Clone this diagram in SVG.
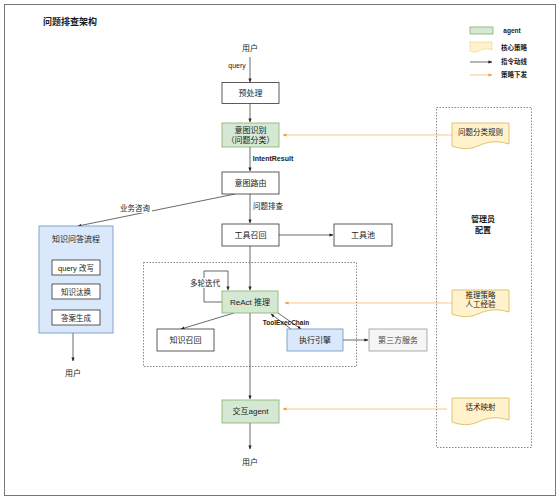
<svg xmlns="http://www.w3.org/2000/svg" width="560" height="500" viewBox="0 0 560 500">
<defs>
<style>
text{font-family:"Liberation Sans","Noto Sans CJK SC",sans-serif;font-size:8px;fill:#1a1a1a;text-anchor:middle}
.b{font-weight:bold}
.box{fill:#fff;stroke:#333;stroke-width:0.8}
.ag{fill:#d5e8d4;stroke:#82b366;stroke-width:0.8}
.bl{fill:#dae8fc;stroke:#6c8ebf;stroke-width:0.8}
.gr{fill:#f5f5f5;stroke:#999;stroke-width:0.8}
.doc{fill:#fff2cc;stroke:#d6b656;stroke-width:0.8}
.ln{fill:none;stroke:#444;stroke-width:0.8}
.or{fill:none;stroke:#ffb570;stroke-width:0.8}
.dash{fill:none;stroke:#555;stroke-width:0.7;stroke-dasharray:1.5,1.5}
</style>
<marker id="a" viewBox="0 0 10 10" refX="9" refY="5" markerWidth="5" markerHeight="5" orient="auto"><path d="M0,1 L10,5 L0,9 Z" fill="#222"/></marker>
<marker id="o" viewBox="0 0 10 10" refX="9" refY="5" markerWidth="5" markerHeight="5" orient="auto"><path d="M0,1 L10,5 L0,9 Z" fill="#ff9933"/></marker>
</defs>
<rect x="4.5" y="4.5" width="551" height="491" fill="#fff" stroke="#777" stroke-width="1"/>
<text x="70" y="25" class="b" style="font-size:9px">问题排查架构</text>

<g id="legend">
<rect x="470" y="27" width="23" height="7" class="ag"/>
<text x="512" y="33" class="b" style="font-size:6.5px">agent</text>
<path d="M470,42 H492 V50 C487,48 482,49 479,51 C476,53 473,52 470,51 Z" fill="#fff2cc" stroke="#d6b656" stroke-width="0.6" stroke-dasharray="1.5,1"/>
<text x="514" y="50" class="b" style="font-size:6.5px">核心策略</text>
<line x1="470" y1="62" x2="492" y2="62" class="ln" marker-end="url(#a)"/>
<text x="514" y="64" class="b" style="font-size:6.5px">指令动线</text>
<line x1="470" y1="75" x2="492" y2="75" class="or" marker-end="url(#o)"/>
<text x="514" y="77" class="b" style="font-size:6.5px">策略下发</text>
</g>

<g id="regions">
<rect x="143.5" y="262.5" width="213" height="104" class="dash"/>
<rect x="436.5" y="107.5" width="95" height="340" class="dash"/>
<text x="483" y="222" class="b">管理员</text>
<text x="483" y="233" class="b">配置</text>
</g>

<g id="connectors">
<line x1="250" y1="57" x2="250" y2="82" class="ln" marker-end="url(#a)"/>
<text x="237" y="68" style="font-size:7px">query</text>
<line x1="250" y1="103" x2="250" y2="122" class="ln" marker-end="url(#a)"/>
<line x1="250" y1="147" x2="250" y2="171" class="ln" marker-end="url(#a)"/>
<text x="273" y="161" class="b" style="font-size:7px">IntentResult</text>
<line x1="250" y1="194" x2="250" y2="223" class="ln" marker-end="url(#a)"/>
<text x="268" y="209" style="font-size:7.5px">问题排查</text>
<line x1="235" y1="194" x2="78" y2="226" class="ln" marker-end="url(#a)"/>
<rect x="119" y="203" width="33" height="10" fill="#fff"/>
<text x="135" y="211" style="font-size:7.5px">业务咨询</text>
<line x1="279" y1="235" x2="333" y2="235" class="ln" marker-end="url(#a)"/>
<line x1="250" y1="246" x2="250" y2="290" class="ln" marker-end="url(#a)"/>
<line x1="250" y1="313" x2="250" y2="399" class="ln" stroke="#777" marker-end="url(#a)"/>
<line x1="250" y1="423" x2="250" y2="449" class="ln" stroke="#888" marker-end="url(#a)"/>
<line x1="73" y1="333" x2="73" y2="361" class="ln" stroke="#888" marker-end="url(#a)"/>
<path d="M222,302 H204 V271 H228 V290" class="ln" marker-end="url(#a)"/>
<rect x="190" y="278" width="30" height="10" fill="#fff"/>
<text x="205" y="286" style="font-size:7.5px">多轮迭代</text>
<line x1="234" y1="313" x2="181" y2="329" class="ln" marker-end="url(#a)"/>
<line x1="291" y1="329" x2="271" y2="314" class="ln" marker-end="url(#a)"/>
<line x1="278" y1="313" x2="301" y2="329" class="ln" marker-end="url(#a)"/>
<text x="286" y="325" class="b" style="font-size:6.5px">ToolExecChain</text>
<line x1="343" y1="340" x2="368" y2="340" class="ln" marker-end="url(#a)"/>
<line x1="452" y1="135" x2="283" y2="135" class="or" marker-end="url(#o)"/>
<line x1="452" y1="303" x2="285" y2="303" class="or" marker-end="url(#o)"/>
<line x1="447" y1="409" x2="283" y2="409" class="or" marker-end="url(#o)"/>
</g>

<g id="user-top"><text x="250" y="51">用户</text></g>
<g id="preprocess"><rect x="222" y="82.5" width="57" height="21" class="box"/><text x="250.5" y="96">预处理</text></g>
<g id="intent"><rect x="222" y="123" width="57" height="24" class="ag"/><text x="250.5" y="133">意图识别</text><text x="250.5" y="143">（问题分类）</text></g>
<g id="route"><rect x="222" y="172" width="57" height="22" class="box"/><text x="250.5" y="186">意图路由</text></g>
<g id="toolrecall"><rect x="222" y="224" width="57" height="22" class="box"/><text x="250.5" y="238">工具召回</text></g>
<g id="toolpool"><rect x="334" y="224" width="58" height="22" class="box"/><text x="363" y="238">工具池</text></g>

<g id="kqa">
<rect x="39" y="226" width="74" height="107" class="bl"/>
<text x="76" y="242">知识问答流程</text>
<rect x="52" y="260" width="48" height="15" class="box"/><text x="76" y="270.5" style="font-size:7.5px">query 改写</text>
<rect x="52" y="284" width="48" height="15" class="box"/><text x="76" y="294.5" style="font-size:7.5px">知识汰换</text>
<rect x="52" y="310" width="48" height="15" class="box"/><text x="76" y="320.5" style="font-size:7.5px">答案生成</text>
</g>
<g id="user-left"><text x="73" y="376">用户</text></g>

<g id="react"><rect x="222" y="291" width="56" height="22" class="ag"/><text x="250" y="305">ReAct 推理</text></g>
<g id="krecall"><rect x="157" y="329" width="57" height="22" class="box"/><text x="185.5" y="343">知识召回</text></g>
<g id="exec"><rect x="287" y="329" width="56" height="22" class="bl"/><text x="315" y="343">执行引擎</text></g>
<g id="third"><rect x="369" y="329" width="58" height="22" class="gr"/><text x="398" y="343" style="fill:#444">第三方服务</text></g>

<g id="interact"><rect x="222" y="400" width="57" height="23" class="ag"/><text x="250.5" y="414">交互agent</text></g>
<g id="user-bottom"><text x="250" y="465">用户</text></g>

<g id="doc1"><path d="M452,123 H509 V144 C497,140 486,142 478,146 C469,150 460,149 452,146 Z" class="doc"/><text x="480.5" y="135" style="font-size:7.5px">问题分类规则</text></g>
<g id="doc2"><path d="M452,290 H509 V312 C497,308 486,310 478,314 C469,318 460,317 452,314 Z" class="doc"/><text x="480.5" y="298" style="font-size:7.5px">推理策略</text><text x="480.5" y="307" style="font-size:7.5px">人工经验</text></g>
<g id="doc3"><path d="M452,398 H509 V420 C497,416 486,418 478,422 C469,426 460,425 452,422 Z" class="doc"/><text x="480.5" y="410" style="font-size:7.5px">话术映射</text></g>
</svg>
